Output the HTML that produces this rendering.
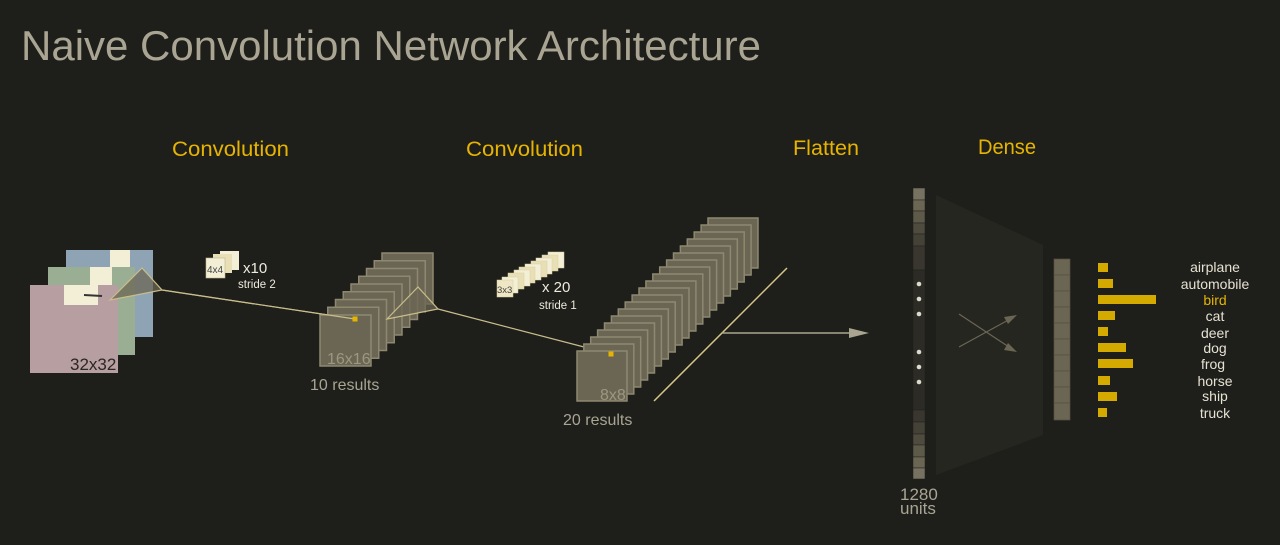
<!DOCTYPE html>
<html><head><meta charset="utf-8"><style>
html,body{margin:0;padding:0;background:#1e1e1b;}
svg{display:block;font-family:"Liberation Sans",sans-serif;}
</style></head><body>
<svg width="1280" height="545" viewBox="0 0 1280 545" xmlns="http://www.w3.org/2000/svg">
<rect width="1280" height="545" fill="#1e1e1b"/>
<text x="21" y="60" font-size="42" fill="#a9a592" textLength="740" lengthAdjust="spacingAndGlyphs" font-weight="300">Naive Convolution Network Architecture</text>
<g fill="#e6b400" font-size="21">
<text x="172" y="156" textLength="117" lengthAdjust="spacingAndGlyphs">Convolution</text>
<text x="466" y="156" textLength="117" lengthAdjust="spacingAndGlyphs">Convolution</text>
<text x="793" y="155" textLength="66" lengthAdjust="spacingAndGlyphs">Flatten</text>
<text x="978" y="154" textLength="58" lengthAdjust="spacingAndGlyphs">Dense</text>
</g>
<!-- input images -->
<rect x="66" y="250" width="87" height="87" fill="#8ea4b4"/>
<rect x="110" y="250" width="20" height="20" fill="#f3efd6"/>
<rect x="48" y="267" width="87" height="88" fill="#9aae94"/>
<rect x="90" y="267" width="22" height="18" fill="#f3efd6"/>
<rect x="30" y="285" width="88" height="88" fill="#b79ea1"/>
<rect x="64" y="285" width="34" height="20" fill="#f3efd6"/>
<line x1="84" y1="295" x2="102" y2="296" stroke="#333" stroke-width="2"/>
<text x="70" y="370" font-size="17" fill="#2a2725">32x32</text>
<polygon points="110,300 142,268 162,290" fill="#6b6654" fill-opacity="0.75" stroke="#c9bd8a" stroke-width="1.2"/>
<line x1="162" y1="290" x2="355" y2="319" stroke="#c9bd8a" stroke-width="1.2"/>
<!-- 4x4 filters -->
<rect x="220" y="251" width="19" height="19" fill="#f3efd6"/>
<rect x="213" y="254" width="19" height="19" fill="#e8dfb6"/>
<rect x="206" y="258" width="19" height="20" fill="#f3efd6" stroke="#bfb58a" stroke-width="0.6"/>
<text x="207" y="273" font-size="10" fill="#444">4x4</text>
<text x="243" y="273" font-size="15" fill="#eeeadc">x10</text>
<text x="238" y="288" font-size="11.5" fill="#eeeadc">stride 2</text>
<!-- stack 1 -->
<g fill="#6b6654" stroke="#8e8870" stroke-width="1.5">
<rect x="382" y="253" width="51" height="51"/>
<rect x="374.25" y="260.75" width="51" height="51"/>
<rect x="366.5" y="268.5" width="51" height="51"/>
<rect x="358.75" y="276.25" width="51" height="51"/>
<rect x="351" y="284" width="51" height="51"/>
<rect x="343.25" y="291.75" width="51" height="51"/>
<rect x="335.5" y="299.5" width="51" height="51"/>
<rect x="327.75" y="307.25" width="51" height="51"/>
<rect x="320" y="315" width="51" height="51"/>
</g>
<text x="327" y="364" font-size="16" fill="#9c977f">16x16</text>
<text x="310" y="390" font-size="16" fill="#a9a592">10 results</text>
<polygon points="387,319 418,287 438,309" fill="#6b6654" fill-opacity="0.75" stroke="#c9bd8a" stroke-width="1.2"/>
<line x1="162" y1="290" x2="355" y2="319" stroke="#c9bd8a" stroke-width="1.2"/>
<rect x="352.5" y="316.5" width="5" height="5" fill="#e6b400"/>
<line x1="438" y1="309" x2="611" y2="354" stroke="#c9bd8a" stroke-width="1.2"/>
<!-- 3x3 filters -->
<g stroke="#d8cfa0" stroke-width="0.5">
<rect x="548" y="252" width="16" height="16" fill="#f3efd6"/>
<rect x="542" y="255" width="16" height="16" fill="#e8dfb6"/>
<rect x="536" y="258" width="16" height="16" fill="#f3efd6"/>
<rect x="531" y="261" width="16" height="16" fill="#e8dfb6"/>
<rect x="525" y="264" width="16" height="16" fill="#f3efd6"/>
<rect x="519" y="267" width="16" height="16" fill="#e8dfb6"/>
<rect x="514" y="270" width="16" height="16" fill="#f3efd6"/>
<rect x="508" y="273" width="16" height="16" fill="#e8dfb6"/>
<rect x="502" y="277" width="16" height="16" fill="#f3efd6"/>
<rect x="497" y="280" width="16" height="17" fill="#efe6c4"/>
</g>
<text x="497" y="293" font-size="9.5" fill="#444">3x3</text>
<text x="542" y="292" font-size="15" fill="#eeeadc">x 20</text>
<text x="539" y="309" font-size="11.5" fill="#eeeadc">stride 1</text>
<!-- stack 2 -->
<g fill="#6b6654" stroke="#8e8870" stroke-width="1.5">
<rect x="708" y="218" width="50" height="50"/>
<rect x="701.1" y="225" width="50" height="50"/>
<rect x="694.2" y="232" width="50" height="50"/>
<rect x="687.3" y="239" width="50" height="50"/>
<rect x="680.4" y="246" width="50" height="50"/>
<rect x="673.5" y="253" width="50" height="50"/>
<rect x="666.6" y="260" width="50" height="50"/>
<rect x="659.7" y="267" width="50" height="50"/>
<rect x="652.8" y="274" width="50" height="50"/>
<rect x="645.9" y="281" width="50" height="50"/>
<rect x="639" y="288" width="50" height="50"/>
<rect x="632.1" y="295" width="50" height="50"/>
<rect x="625.2" y="302" width="50" height="50"/>
<rect x="618.3" y="309" width="50" height="50"/>
<rect x="611.4" y="316" width="50" height="50"/>
<rect x="604.5" y="323" width="50" height="50"/>
<rect x="597.6" y="330" width="50" height="50"/>
<rect x="590.7" y="337" width="50" height="50"/>
<rect x="583.8" y="344" width="50" height="50"/>
<rect x="577" y="351" width="50" height="50"/>
</g>
<rect x="608.5" y="351.5" width="5" height="5" fill="#e6b400"/>
<text x="600" y="400" font-size="16" fill="#9c977f">8x8</text>
<text x="563" y="425" font-size="16" fill="#a9a592">20 results</text>
<line x1="654" y1="401" x2="787" y2="268" stroke="#d8c888" stroke-width="1.5"/>
<line x1="722" y1="333" x2="852" y2="333" stroke="#aaa590" stroke-width="1.5"/>
<polygon points="849,328 869,333 849,338" fill="#aaa590"/>
<!-- flatten column -->
<g stroke="#1e1e1b" stroke-width="0.5">
<rect x="913" y="188" width="12" height="12" fill="#767160"/>
<rect x="913" y="200" width="12" height="11" fill="#6b6654"/>
<rect x="913" y="211" width="12" height="12" fill="#5e5a4a"/>
<rect x="913" y="223" width="12" height="11" fill="#4f4b3f"/>
<rect x="913" y="234" width="12" height="12" fill="#444136"/>
<rect x="913" y="246" width="12" height="24" fill="#38362e"/>
<rect x="913" y="270" width="12" height="140" fill="#2c2b26"/>
<rect x="913" y="410" width="12" height="12" fill="#38362e"/>
<rect x="913" y="422" width="12" height="12" fill="#444136"/>
<rect x="913" y="434" width="12" height="11" fill="#4f4b3f"/>
<rect x="913" y="445" width="12" height="12" fill="#5e5a4a"/>
<rect x="913" y="457" width="12" height="11" fill="#6b6654"/>
<rect x="913" y="468" width="12" height="11" fill="#767160"/>
</g>
<g fill="#ddd9cc">
<circle cx="919" cy="284" r="2.3"/><circle cx="919" cy="299" r="2.3"/><circle cx="919" cy="314" r="2.3"/>
<circle cx="919" cy="352" r="2.3"/><circle cx="919" cy="367" r="2.3"/><circle cx="919" cy="382" r="2.3"/>
</g>
<text x="900" y="500" font-size="17" fill="#a9a592">1280</text>
<text x="900" y="514" font-size="17" fill="#a9a592">units</text>
<polygon points="936,195 1043,245 1043,435 936,475" fill="#262621"/>
<g stroke="#6b6654" stroke-width="1.2">
<line x1="959" y1="347" x2="1012" y2="318"/>
<line x1="959" y1="314" x2="1012" y2="349"/>
</g>
<polygon points="1017,315 1004,317 1008,324" fill="#6b6654"/>
<polygon points="1017,352 1004,350 1008,343" fill="#6b6654"/>
<!-- dense column -->
<g fill="#6b6654" stroke="#54503f" stroke-width="0.7">
<rect x="1054" y="259" width="16" height="16"/><rect x="1054" y="275" width="16" height="16"/>
<rect x="1054" y="291" width="16" height="16"/><rect x="1054" y="307" width="16" height="16"/>
<rect x="1054" y="323" width="16" height="16"/><rect x="1054" y="339" width="16" height="16"/>
<rect x="1054" y="355" width="16" height="16"/><rect x="1054" y="371" width="16" height="16"/>
<rect x="1054" y="387" width="16" height="16"/><rect x="1054" y="403" width="16" height="17"/>
</g>
<g fill="#d4aa00">
<rect x="1098" y="263" width="10" height="9"/>
<rect x="1098" y="279" width="15" height="9"/>
<rect x="1098" y="295" width="58" height="9"/>
<rect x="1098" y="311" width="17" height="9"/>
<rect x="1098" y="327" width="10" height="9"/>
<rect x="1098" y="343" width="28" height="9"/>
<rect x="1098" y="359" width="35" height="9"/>
<rect x="1098" y="376" width="12" height="9"/>
<rect x="1098" y="392" width="19" height="9"/>
<rect x="1098" y="408" width="9" height="9"/>
</g>
<g font-size="14" fill="#e6e2d2" text-anchor="middle">
<text x="1215" y="272">airplane</text>
<text x="1215" y="289">automobile</text>
<text x="1215" y="305" fill="#e6b400">bird</text>
<text x="1215" y="321">cat</text>
<text x="1215" y="338">deer</text>
<text x="1215" y="353">dog</text>
<text x="1213" y="369">frog</text>
<text x="1215" y="386">horse</text>
<text x="1215" y="401">ship</text>
<text x="1215" y="418">truck</text>
</g>
</svg>
</body></html>
